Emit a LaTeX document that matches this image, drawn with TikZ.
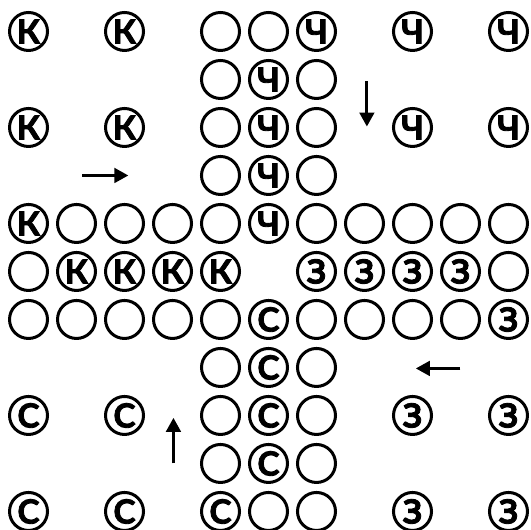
\documentclass[tikz,border=0pt]{standalone}
\usepackage{fontspec}
\newfontfamily\boardfont{Lato}[FakeBold = 2.5]
\usetikzlibrary{arrows.meta}
\tikzset{cell/.style = {draw, circle, line width = 2.25pt, minimum size = 28.5pt, inner sep = 0pt,
                        font = \boardfont\bfseries\fontsize{25pt}{25pt}\selectfont},
         move/.style = {line width = 2.1pt, -{Triangle[length = 10.5pt, width = 11pt]}},
}
\begin{document}
\begin{tikzpicture}[x = 36pt, y = -36pt]
  \useasboundingbox (-0.594, -0.656) rectangle (10.469, 10.385);

  % empty track cells
  \foreach \c/\r in {4/0, 5/0, 4/1, 6/1, 4/2, 6/2, 4/3, 6/3,
                     1/4, 2/4, 3/4, 4/4, 6/4, 7/4, 8/4, 9/4, 10/4, 0/5, 10/5,
                     0/6, 1/6, 2/6, 3/6, 4/6, 6/6, 7/6, 8/6, 9/6,
                     4/7, 6/7, 4/8, 6/8, 4/9, 6/9, 5/10, 6/10}
    \node[cell] (e-\c-\r) at (\c, \r) {};

  % the four sides
  \foreach \c/\r in {0/0, 2/0, 0/2, 2/2, 0/4, 1/5, 2/5, 3/5, 4/5}
    \node[cell] (k-\c-\r) at (\c, \r) {К};
  \foreach \c/\r in {6/0, 8/0, 10/0, 8/2, 10/2, 5/1, 5/2, 5/3, 5/4}
    \node[cell] (ch-\c-\r) at (\c, \r) {Ч};
  \foreach \c/\r in {6/5, 7/5, 8/5, 9/5, 10/6, 8/8, 10/8, 8/10, 10/10}
    \node[cell] (z-\c-\r) at (\c, \r) {З};
  \foreach \c/\r in {5/6, 5/7, 5/8, 5/9, 4/10, 0/8, 2/8, 0/10, 2/10}
    \node[cell] (s-\c-\r) at (\c, \r) {С};

  % direction arrows
  \coordinate (kin) at (1.12, 3);    \coordinate (kout) at (2.08, 3);
  \coordinate (chin) at (7.05, 1.04); \coordinate (chout) at (7.05, 1.98);
  \coordinate (zin) at (9.0, 7.02);   \coordinate (zout) at (8.07, 7.02);
  \coordinate (sin) at (3.02, 9.0);   \coordinate (sout) at (3.02, 8.05);

  \draw[move] (kin) -- (kout);
  \draw[move] (chin) -- (chout);
  \draw[move] (zin) -- (zout);
  \draw[move] (sin) -- (sout);

\end{tikzpicture}
\end{document}
